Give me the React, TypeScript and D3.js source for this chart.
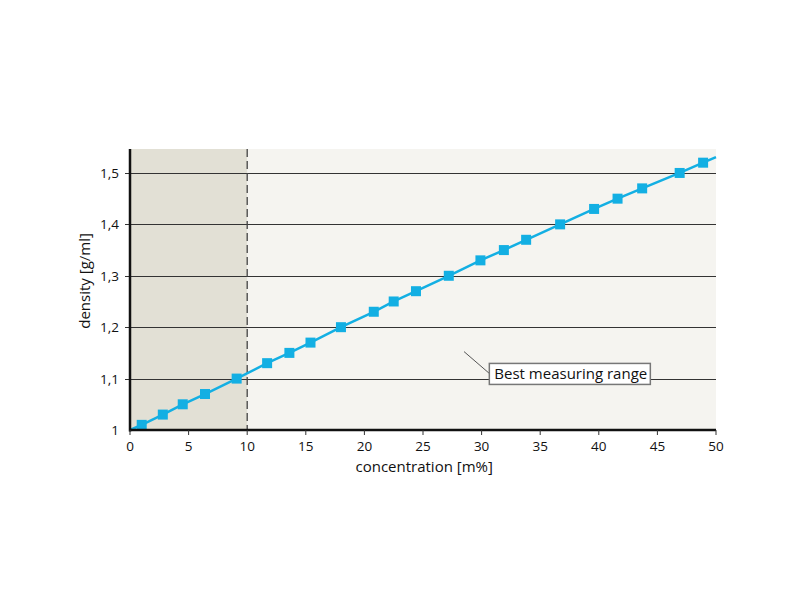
import * as d3 from 'd3';

const concentration = [
  1.0, 2.8, 4.5, 6.4, 9.1, 11.7, 13.6, 15.4, 18.0, 20.8, 22.5, 24.4, 27.2,
  29.9, 31.9, 33.8, 36.7, 39.6, 41.6, 43.7, 46.9, 48.9
];
const density = [
  1.01, 1.03, 1.05, 1.07, 1.1, 1.13, 1.15, 1.17, 1.2, 1.23, 1.25, 1.27, 1.3,
  1.33, 1.35, 1.37, 1.4, 1.43, 1.45, 1.47, 1.5, 1.52
];
// line runs from the origin to the right edge of the plot
const lineStart = [0, 1.0];
const lineEnd = [50, 1.531];

const xTicks = [0, 5, 10, 15, 20, 25, 30, 35, 40, 45, 50];
const yTicks = [1, 1.1, 1.2, 1.3, 1.4, 1.5];
const yTickLabels = ['1', '1,1', '1,2', '1,3', '1,4', '1,5'];
const bestRangeFrom = 10;
const annotationText = 'Best measuring range';

export default function App() {
  const width = 800;
  const height = 600;
  const margin = { top: 149, right: 84, bottom: 170, left: 130 };
  const innerW = width - margin.left - margin.right;
  const innerH = height - margin.top - margin.bottom;

  const x = d3.scaleLinear().domain([0, 50]).range([0, innerW]);
  const y = d3.scaleLinear().domain([1, 1.5466]).range([innerH, 0]);

  const points = concentration.map((c, i) => [c, density[i]] as [number, number]);
  const linePts = [lineStart as [number, number], ...points, lineEnd as [number, number]];
  const line = d3
    .line<[number, number]>()
    .x((d) => x(d[0]))
    .y((d) => y(d[1]));

  const blue = '#13afe3';
  const font = "'Open Sans', 'DejaVu Sans', sans-serif";
  const ms = 10;

  // annotation position in data units
  const boxX = x(30.66);
  const boxY = y(1.1295);

  return (
    <svg
      width={width}
      height={height}
      style={{ position: 'absolute', left: 0, top: 0, background: '#fff' }}
      fontFamily={font}
    >
      <g transform={`translate(${margin.left},${margin.top})`}>
        <rect x={0} y={0} width={innerW} height={innerH} fill="#f5f4f0" />
        <rect x={0} y={0} width={x(bestRangeFrom)} height={innerH} fill="#e2e0d5" />

        {yTicks.slice(1).map((t) => (
          <line
            key={t}
            x1={-5}
            x2={innerW}
            y1={Math.round(y(t)) + 0.5}
            y2={Math.round(y(t)) + 0.5}
            stroke="#333"
            strokeWidth={1}
          />
        ))}

        <line
          x1={x(bestRangeFrom)}
          x2={x(bestRangeFrom)}
          y1={0}
          y2={innerH}
          stroke="#444"
          strokeWidth={1.3}
          strokeDasharray="8,4"
        />

        {/* annotation leader and box */}
        <line x1={x(28.5)} y1={y(1.1525)} x2={boxX} y2={boxY + 10} stroke="#555" strokeWidth={1} />
        <rect
          x={boxX}
          y={boxY}
          width={161}
          height={21}
          fill="#fff"
          stroke="#777"
          strokeWidth={1.5}
        />
        <text x={boxX + 5} y={boxY + 16} fontSize={15} fill="#111">
          {annotationText}
        </text>

        <path d={line(linePts) || ''} fill="none" stroke={blue} strokeWidth={2.5} />
        {points.map((p, i) => (
          <rect
            key={i}
            x={x(p[0]) - ms / 2}
            y={y(p[1]) - ms / 2}
            width={ms}
            height={ms}
            fill={blue}
          />
        ))}

        {/* axes */}
        <line x1={0} x2={0} y1={0} y2={innerH + 1.5} stroke="#111" strokeWidth={2.5} />
        <line x1={-1} x2={innerW} y1={innerH} y2={innerH} stroke="#111" strokeWidth={2.5} />
        {xTicks.map((t) => (
          <g key={t} transform={`translate(${x(t)},${innerH})`}>
            <line y1={0} y2={5} stroke="#333" strokeWidth={1} />
            <text y={21} textAnchor="middle" fontSize={13.5} fill="#111">
              {t}
            </text>
          </g>
        ))}
        {yTicks.map((t, i) => (
          <text
            key={t}
            x={-11}
            y={y(t) + 5}
            textAnchor="end"
            fontSize={13.5}
            fill="#111"
          >
            {yTickLabels[i]}
          </text>
        ))}

        <text x={x(25.1)} y={innerH + 42} textAnchor="middle" fontSize={15} fill="#111">
          concentration [m%]
        </text>
        <text
          transform={`translate(-40,${y(1.29)}) rotate(-90)`}
          textAnchor="middle"
          fontSize={15}
          fill="#111"
        >
          density [g/ml]
        </text>
      </g>
    </svg>
  );
}
